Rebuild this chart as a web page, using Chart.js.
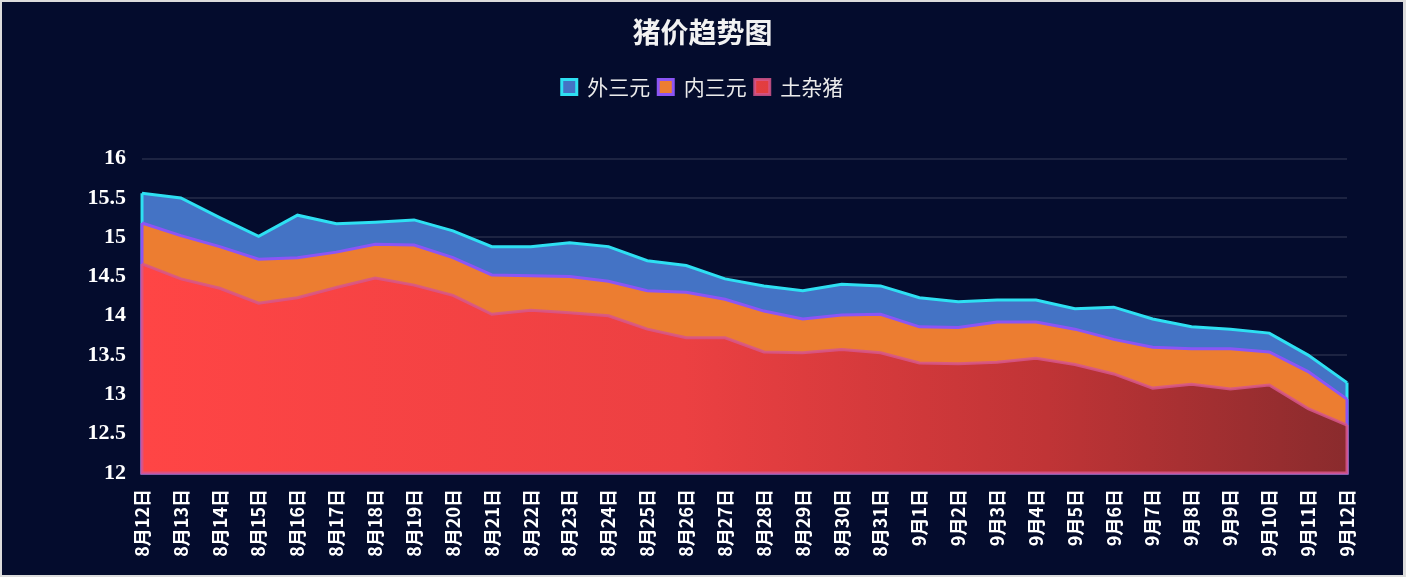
<!DOCTYPE html>
<html>
<head>
<meta charset="utf-8">
<script src="https://cdn.jsdelivr.net/npm/chart.js@4/dist/chart.umd.min.js"></script>
<style>
  html, body { margin: 0; padding: 0; background: #dcdcdc; }
  #box { position: absolute; left: 2px; top: 2px; width: 1401px; height: 573px; background: #040c2d; }
  canvas { display: block; }
</style>
</head>
<body>
<div id="box"><canvas id="pigChart" width="1401" height="573"></canvas></div>
<script>
// dates on the x axis
const dates = ['8月12日', '8月13日', '8月14日', '8月15日', '8月16日', '8月17日', '8月18日', '8月19日',
  '8月20日', '8月21日', '8月22日', '8月23日', '8月24日', '8月25日', '8月26日', '8月27日',
  '8月28日', '8月29日', '8月30日', '8月31日', '9月1日', '9月2日', '9月3日', '9月4日',
  '9月5日', '9月6日', '9月7日', '9月8日', '9月9日', '9月10日', '9月11日', '9月12日'];

const waiSanYuan = [15.56, 15.50, 15.25, 15.01, 15.28, 15.17, 15.19, 15.22, 15.08, 14.88, 14.88, 14.93,
  14.88, 14.70, 14.64, 14.47, 14.38, 14.32, 14.40, 14.38, 14.23, 14.18, 14.20, 14.20,
  14.09, 14.11, 13.96, 13.86, 13.83, 13.78, 13.50, 13.15];
const neiSanYuan = [15.18, 15.02, 14.88, 14.72, 14.74, 14.81, 14.91, 14.90, 14.74, 14.52, 14.51, 14.50,
  14.44, 14.32, 14.30, 14.21, 14.06, 13.96, 14.01, 14.02, 13.86, 13.85, 13.92, 13.92,
  13.83, 13.70, 13.60, 13.58, 13.58, 13.54, 13.29, 12.94];
const tuZaZhu = [14.66, 14.47, 14.35, 14.16, 14.23, 14.36, 14.48, 14.39, 14.26, 14.02, 14.07, 14.04,
  14.00, 13.83, 13.72, 13.72, 13.54, 13.53, 13.57, 13.53, 13.40, 13.39, 13.41, 13.46,
  13.38, 13.26, 13.08, 13.13, 13.07, 13.12, 12.82, 12.61];

const yMin = 12;
const yMax = 16;
const yStep = 0.5;

// red gradient for the front area, built from the chart area once it exists
const redFill = (context) => {
    const chart = context.chart;
    const area = chart.chartArea;
    if (!area) return '#f04242';
    const g = chart.ctx.createLinearGradient(area.left, 0, area.right, 0);
    g.addColorStop(0, '#ff4545');
    g.addColorStop(0.45, '#ec4042');
    g.addColorStop(0.75, '#c03436');
    g.addColorStop(1, '#8a2b2d');
    return g;
};

// closes each area outline down the sides and along the bottom, like the original
const edgePlugin = {
    id: 'edges',
    beforeUpdate(chart) {
        const legend = chart.legend;
        if (legend && !legend._padded) {
            const fit = legend.fit;
            legend.fit = function () {
                fit.call(this);
                this.height += 51;
            };
            legend._padded = true;
        }
    },
    afterDatasetDraw(chart, args) {
        const pts = args.meta.data;
        if (!pts.length) return;
        const ds = chart.data.datasets[args.index];
        const bottom = chart.scales.y.getPixelForValue(yMin);
        const ctx = chart.ctx;
        ctx.save();
        ctx.strokeStyle = ds.borderColor;
        ctx.lineWidth = ds.borderWidth;
        ctx.beginPath();
        ctx.moveTo(pts[0].x, pts[0].y);
        ctx.lineTo(pts[0].x, bottom);
        ctx.lineTo(pts[pts.length - 1].x, bottom);
        ctx.lineTo(pts[pts.length - 1].x, pts[pts.length - 1].y);
        ctx.stroke();
        ctx.restore();
    }
};

new Chart(document.getElementById('pigChart'), {
    type: 'line',
    data: {
        labels: dates,
        datasets: [
            {
                label: '外三元',
                data: waiSanYuan,
                borderColor: '#2ee0f2',
                backgroundColor: '#4473c5',
                borderWidth: 3,
                fill: 'start',
                order: 3,
            },
            {
                label: '内三元',
                data: neiSanYuan,
                borderColor: '#8c55f5',
                backgroundColor: '#ec7d31',
                borderWidth: 3,
                fill: 'start',
                order: 2,
            },
            {
                label: '土杂猪',
                data: tuZaZhu,
                borderColor: 'rgba(214, 86, 140, 0.85)',
                backgroundColor: redFill,
                borderWidth: 3,
                fill: 'start',
                order: 1,
            },
        ],
    },
    options: {
        responsive: false,
        animation: false,
        layout: { padding: 0 },
        elements: {
            point: { radius: 0, hoverRadius: 0 },
            line: { tension: 0 },
        },
        plugins: {
            title: {
                display: true,
                text: '猪价趋势图',
                color: '#f2f2f2',
                font: { family: '"Noto Sans CJK SC", "Noto Sans", sans-serif', size: 28, weight: 'bold' },
                padding: { top: 14, bottom: 19 },
            },
            legend: {
                display: true,
                labels: {
                    color: '#ececec',
                    font: { family: '"Noto Sans CJK SC", "Noto Sans", sans-serif', size: 21 },
                    boxWidth: 15,
                    boxHeight: 15,
                    padding: 8,
                    sort: (a, b) => a.datasetIndex - b.datasetIndex,
                },
            },
            tooltip: { enabled: false },
        },
        scales: {
            x: {
                afterFit: (scale) => { scale.height = 102; },
                grid: { display: false },
                border: { display: false },
                ticks: {
                    color: '#ffffff',
                    autoSkip: false,
                    minRotation: 90,
                    maxRotation: 90,
                    padding: 8,
                    font: { family: '"Noto Sans CJK SC", "Noto Sans", sans-serif', size: 18, weight: 'bold' },
                },
            },
            y: {
                min: yMin,
                max: yMax,
                afterFit: (scale) => { scale.width = 140; },
                grid: { color: 'rgba(255, 255, 255, 0.1)', lineWidth: 2, drawTicks: false },
                border: { display: false },
                ticks: {
                    stepSize: yStep,
                    color: '#ffffff',
                    padding: 16,
                    callback: (v) => String(v),
                    font: { family: '"Liberation Serif", "Times New Roman", serif', size: 22, weight: 'bold' },
                },
            },
            // empty right-hand axis, only reserves the blank margin so title and legend stay centred
            yRight: {
                position: 'right',
                min: yMin,
                max: yMax,
                afterFit: (scale) => { scale.width = 56; },
                grid: { display: false },
                border: { display: false },
                ticks: { display: false },
            },
        },
    },
    plugins: [edgePlugin],
});
</script>
</body>
</html>
